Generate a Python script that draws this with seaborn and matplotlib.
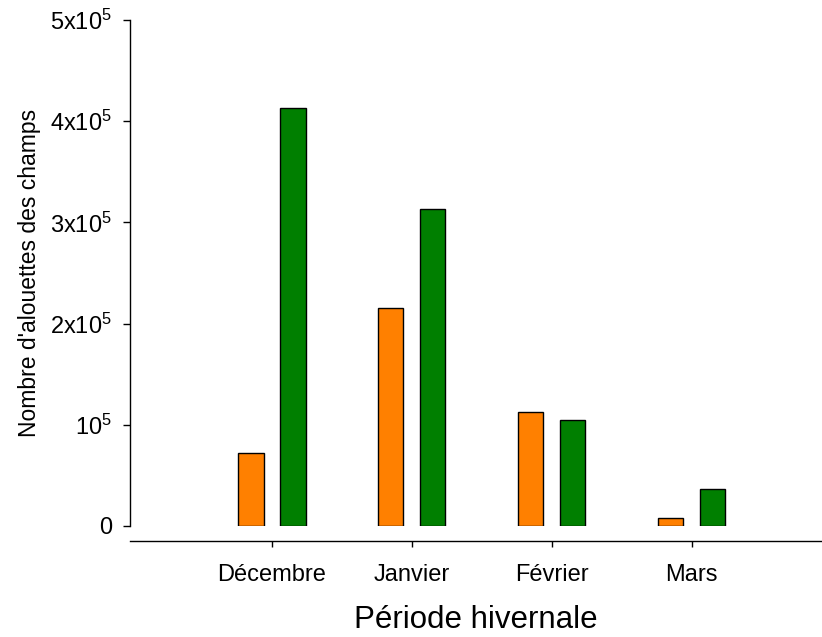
import seaborn as sns
import pandas as pd
import matplotlib.pyplot as plt
from matplotlib.ticker import FixedLocator

# values
months = ['Décembre', 'Janvier', 'Février', 'Mars']
serie_a = [72000, 215000, 113000, 7600]     # orange bars
serie_b = [413000, 313000, 105000, 37000]   # green bars
y_ticks = [0, 1e5, 2e5, 3e5, 4e5, 5e5]
y_tick_labels = ['0', r'$10^5$', r'$2\mathrm{x}10^5$', r'$3\mathrm{x}10^5$',
                 r'$4\mathrm{x}10^5$', r'$5\mathrm{x}10^5$']

sns.set_style('ticks')
plt.rcParams['font.family'] = ['Liberation Sans', 'DejaVu Sans']
plt.rcParams['mathtext.fontset'] = 'custom'
plt.rcParams['mathtext.rm'] = 'Liberation Sans'
plt.rcParams['mathtext.it'] = 'Liberation Sans:italic'
plt.rcParams['text.color'] = 'black'
plt.rcParams['axes.labelcolor'] = 'black'
plt.rcParams['xtick.color'] = 'black'
plt.rcParams['ytick.color'] = 'black'

# long format for seaborn
df = pd.DataFrame({
    'mois': months * 2,
    'nombre': serie_a + serie_b,
    'serie': ['a'] * len(months) + ['b'] * len(months),
})

fig = plt.figure(figsize=(8.22, 6.37), dpi=100)
ax = fig.add_axes([130 / 822, 1 - 526 / 637, 1 - 130 / 822, 506 / 637])

sns.barplot(data=df, x='mois', y='nombre', hue='serie', order=months,
            palette={'a': '#FF8000', 'b': '#007F00'}, saturation=1,
            width=0.6, gap=0.4, edgecolor='black', linewidth=1.0,
            legend=False, ax=ax)

ax.set_xlim(-1.014, 3.93)
ax.set_ylim(0, 5e5)
ax.yaxis.set_major_locator(FixedLocator(y_ticks))
ax.set_yticklabels(y_tick_labels)

sns.despine(ax=ax)
ax.spines['bottom'].set_position(('outward', 10.8))
ax.spines['left'].set_bounds(0, 5e5)
for s in ['left', 'bottom']:
    ax.spines[s].set_linewidth(1.0)
    ax.spines[s].set_color('black')

ax.tick_params(axis='y', direction='out', length=5, width=1, pad=8, labelsize=17)
ax.tick_params(axis='x', direction='out', length=4.5, width=1, pad=12, labelsize=17)

ax.set_xlabel('Période hivernale', fontsize=22.5, labelpad=14)
ax.set_ylabel("Nombre d'alouettes des champs", fontsize=16.5, labelpad=12)
ax.yaxis.set_label_coords(-0.129, 0.5)

fig.savefig('out.png', dpi=100)
